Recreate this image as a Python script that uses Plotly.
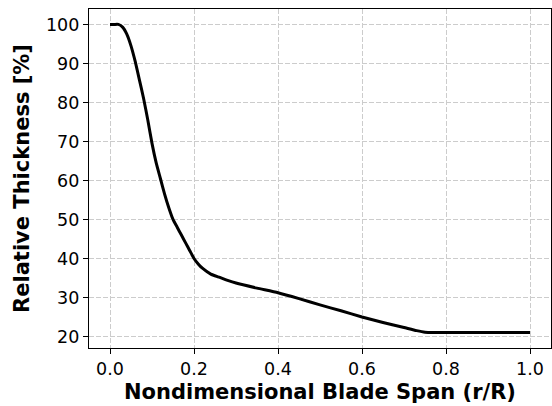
import plotly.graph_objects as go

span = [0.0, 0.01, 0.02, 0.03, 0.04, 0.05, 0.06, 0.07, 0.08, 0.09, 0.10, 0.11, 0.12,
        0.13, 0.14, 0.15, 0.16, 0.17, 0.18, 0.19, 0.20, 0.21, 0.22, 0.24, 0.26, 0.28,
        0.30, 0.35, 0.40, 0.45, 0.50, 0.55, 0.60, 0.65, 0.70, 0.73, 0.75, 0.77, 0.80,
        0.90, 1.00]
thickness = [100, 100, 100, 99.3, 97.5, 94.5, 90.5, 85.8, 81.0, 75.5, 69.5, 64.5, 60.5,
             56.5, 53.0, 50.0, 48.0, 46.0, 44.0, 42.0, 40.0, 38.6, 37.5, 36.0, 35.2, 34.4,
             33.7, 32.4, 31.2, 29.7, 28.1, 26.6, 25.0, 23.6, 22.3, 21.5, 21.1, 21.0, 21.0,
             21.0, 21.0]

x_ticks = [0.0, 0.2, 0.4, 0.6, 0.8, 1.0]
x_ticklabels = ["0.0", "0.2", "0.4", "0.6", "0.8", "1.0"]
y_ticks = [20, 30, 40, 50, 60, 70, 80, 90, 100]

fig = go.Figure()
fig.add_trace(go.Scatter(x=span, y=thickness, mode="lines",
                         line=dict(color="black", width=3, shape="spline", smoothing=0.5),
                         showlegend=False))

ymin, ymax = min(thickness), max(thickness)
pad = 0.05 * (ymax - ymin)

axis_common = dict(
    showline=True, linecolor="black", linewidth=1.2, mirror=True,
    ticks="outside", ticklen=5, tickwidth=1.2, tickcolor="black",
    showgrid=True, gridcolor="#cccccc", griddash="5px,2px", gridwidth=1,
    zeroline=False, automargin=False,
    tickfont=dict(family="DejaVu Sans", size=17.5, color="black"),
)

fig.update_layout(
    width=552, height=406,
    margin=dict(l=89, r=1, t=9, b=58),
    paper_bgcolor="white", plot_bgcolor="white",
    font=dict(family="DejaVu Sans", color="black"),
    xaxis=dict(range=[-0.05, 1.05], tickvals=x_ticks, ticktext=x_ticklabels,
               title=dict(text="<b>Nondimensional Blade Span (r/R)</b>",
                          font=dict(size=21, family="DejaVu Sans"), standoff=6),
               **axis_common),
    yaxis=dict(range=[ymin - pad, ymax + pad], tickvals=y_ticks,
               title=dict(text="<b>Relative Thickness [%]</b>",
                          font=dict(size=21, family="DejaVu Sans"), standoff=10),
               **axis_common),
)

fig.write_html("out.html", config={"displayModeBar": False},
               post_script="document.body.style.margin='0';document.body.style.overflow='hidden';")
